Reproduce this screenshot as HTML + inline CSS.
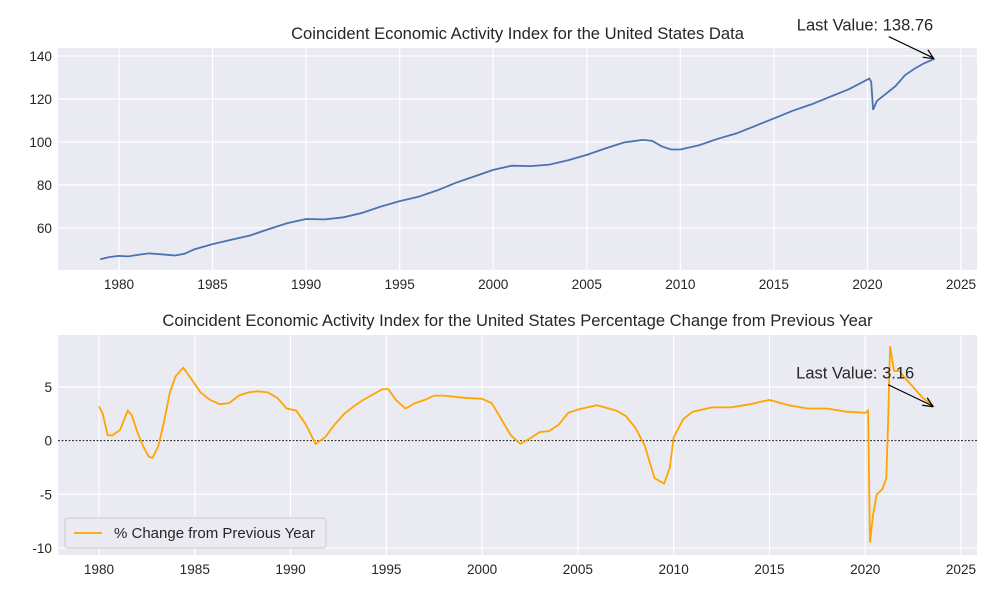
<!DOCTYPE html>
<html><head><meta charset="utf-8"><style>
body{margin:0;background:#fff;font-family:"Liberation Sans",sans-serif}
svg text{font-family:"Liberation Sans","DejaVu Sans",sans-serif;fill:#262626}
</style></head><body>
<svg id="c" width="1000" height="600"></svg>
<script>
const topDates=[1979.0,1979.5,1980.0,1980.5,1981.0,1981.6,1982.5,1983.0,1983.5,1984,1985,1986,1987,1988,1989,1990,1991,1992,1993,1994,1995,1996,1997,1998,1999,2000,2001,2002,2003,2004,2005,2006,2007,2008,2008.5,2009,2009.5,2010,2011,2012,2013,2014,2015,2016,2017,2018,2019,2020.1,2020.2,2020.3,2020.5,2021,2021.5,2022,2022.5,2023,2023.6];
const topValues=[45.5,46.5,47,46.8,47.5,48.2,47.6,47.2,48,50,52.5,54.5,56.5,59.5,62.3,64.2,64,65,67,70,72.5,74.5,77.5,81,84,87,89,88.8,89.5,91.5,94,97,99.8,101,100.5,98,96.5,96.5,98.5,101.5,104,107.5,111,114.5,117.5,121,124.5,129.5,128,115,119,122.5,126,131,134,136.5,138.76];
const botDates=[1980.0,1980.2,1980.45,1980.7,1981.1,1981.5,1981.7,1982.0,1982.3,1982.6,1982.8,1983.1,1983.4,1983.7,1984.0,1984.4,1984.8,1985.3,1985.8,1986.3,1986.8,1987.3,1987.8,1988.3,1988.8,1989.3,1989.8,1990.3,1990.8,1991.3,1991.8,1992.3,1992.8,1993.3,1993.8,1994.3,1994.8,1995.1,1995.5,1996.0,1996.5,1997,1997.5,1998,1999,2000,2000.5,2001,2001.5,2002,2002.5,2003,2003.5,2004,2004.5,2005,2006,2007,2007.5,2008,2008.5,2009,2009.5,2009.8,2010,2010.5,2011,2012,2013,2014,2015,2016,2017,2018,2019,2020.0,2020.15,2020.25,2020.4,2020.6,2020.9,2021.1,2021.2,2021.3,2021.5,2021.8,2022,2022.5,2023,2023.6];
const botValues=[3.2,2.5,0.5,0.5,1,2.8,2.4,0.8,-0.5,-1.5,-1.6,-0.5,1.8,4.5,6.0,6.8,5.8,4.5,3.8,3.4,3.5,4.2,4.5,4.6,4.5,4.0,3.0,2.8,1.5,-0.3,0.3,1.5,2.5,3.2,3.8,4.3,4.8,4.8,3.8,3.0,3.5,3.8,4.2,4.2,4.0,3.9,3.5,2.0,0.5,-0.3,0.2,0.8,0.9,1.5,2.6,2.9,3.3,2.8,2.3,1.2,-0.5,-3.5,-4.0,-2.5,0.3,2.0,2.7,3.1,3.1,3.4,3.8,3.3,3.0,3.0,2.7,2.6,2.8,-9.5,-7,-5.0,-4.5,-3.5,2,8.8,6.5,6.5,6.0,5.0,4.0,3.16];
const xTicks=[1980,1985,1990,1995,2000,2005,2010,2015,2020,2025];
const topYTicks=[60,80,100,120,140];
const botYTicks=[-10,-5,0,5];
const NS="http://www.w3.org/2000/svg",svg=document.getElementById('c');
function el(t,a,txt){const e=document.createElementNS(NS,t);for(const k in a)e.setAttribute(k,a[k]);if(txt!==undefined)e.textContent=txt;svg.appendChild(e);return e;}
function panel(p){
  const sx=v=>p.x0+(v-p.d0)/(p.d1-p.d0)*(p.x1-p.x0);
  const sy=v=>p.yb-(v-p.v0)/(p.v1-p.v0)*(p.yb-p.yt);
  let r=el('rect',{x:p.L,y:p.T,width:p.R-p.L,height:p.B-p.T,fill:'#eaeaf2'});
  
  xTicks.forEach(t=>{const x=sx(t);
    let g=el('line',{x1:x,x2:x,y1:p.T,y2:p.B,stroke:'#fff','stroke-width':1.2});
    
    let l=el('text',{x:x,y:p.B+19,'text-anchor':'middle','font-size':13.6},t);
    });
  p.yt_.forEach(t=>{const y=sy(t);
    let g=el('line',{x1:p.L,x2:p.R,y1:y,y2:y,stroke:'#fff','stroke-width':1.2});
    
    let l=el('text',{x:p.L-6,y:y+5,'text-anchor':'end','font-size':13.6},t);
    });
  if(p.zero){let z=el('line',{x1:p.L,x2:p.R,y1:sy(0),y2:sy(0),stroke:'#000','stroke-width':0.8,'stroke-dasharray':'2,1.5'});
    }
  const d=p.dates.map((t,i)=>(i?'L':'M')+sx(t).toFixed(1)+','+sy(p.vals[i]).toFixed(1)).join('');
  let pl=el('path',{d:d,fill:'none',stroke:p.color,'stroke-width':1.8});
  
  let ti=el('text',{x:(p.L+p.R)/2,y:p.T-9,'text-anchor':'middle','font-size':16.6},p.title);
  
  const lx=sx(p.dates[p.dates.length-1]),ly=sy(p.vals[p.vals.length-1]);
  let at=el('text',{x:lx-138,y:ly-28,'font-size':16.5},'Last Value: '+p.vals[p.vals.length-1]);
  
  let ar=el('line',{x1:lx-46,y1:ly-22,x2:lx-2,y2:ly-1,stroke:'#000','stroke-width':1.2});
  
  let ah=el('path',{d:`M${lx-1},${ly} l-11,-1.5 M${lx-1},${ly} l-6,-9`,stroke:'#000','stroke-width':1.2,fill:'none'});
  
}
panel({name:'top',L:58,R:977,T:48,B:270,d0:1980,d1:2025,x0:119,x1:961,v0:60,v1:140,yb:228,yt:56,yt_:topYTicks,dates:topDates,vals:topValues,color:'#4c72b0',title:'Coincident Economic Activity Index for the United States Data'});
panel({name:'bottom',L:58,R:977,T:335,B:555,d0:1980,d1:2025,x0:99,x1:961,v0:-10,v1:5,yb:548,yt:387,yt_:botYTicks,dates:botDates,vals:botValues,color:'#ffa500',zero:true,title:'Coincident Economic Activity Index for the United States Percentage Change from Previous Year'});
let lg=el('rect',{x:65,y:518,width:261,height:30,fill:'#eaeaf2',stroke:'#ccc',rx:3});

let ll=el('line',{x1:74,x2:102,y1:533,y2:533,stroke:'#ffa500','stroke-width':1.8});

let lt=el('text',{x:114,y:538,'font-size':15},'% Change from Previous Year');

</script></body></html>
